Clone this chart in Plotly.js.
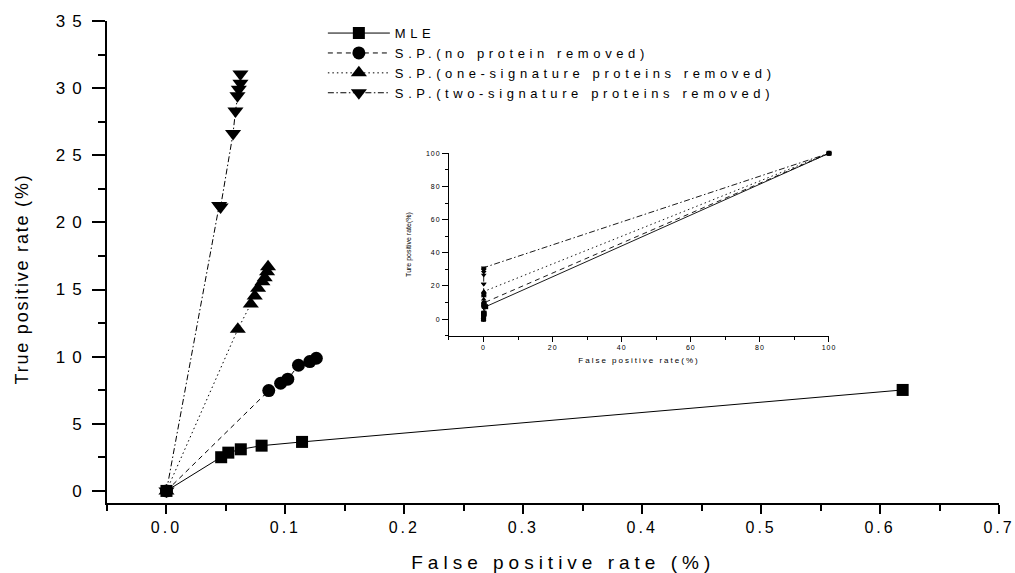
<!DOCTYPE html>
<html>
<head>
<meta charset="utf-8">
<script src="https://cdn.plot.ly/plotly-3.0.1.min.js"></script>
<style>
  html, body { margin: 0; padding: 0; background: #fff; }
  #chart { width: 1015px; height: 573px; }
  g.xtick text { letter-spacing: 3px; }
  g.ytick text { letter-spacing: 7px; }
  g.x2tick text, g.y2tick text { letter-spacing: 1px; }
  .legendtext { letter-spacing: 4.6px; }
  .g-xtitle text { letter-spacing: 5px; }
  .g-ytitle text { letter-spacing: 1.8px; }
  .g-x2title text { letter-spacing: 2px; }
</style>
</head>
<body>
<div id="chart"></div>
<script>
// ---- data ----
const seriesNames = [
  "MLE",
  "S.P.(no protein removed)",
  "S.P.(one-signature proteins removed)",
  "S.P.(two-signature proteins removed)"
];
const mleFPR = [0, 0.046, 0.052, 0.0625, 0.080, 0.114, 0.619];
const mleTPR = [0, 2.51, 2.85, 3.10, 3.37, 3.65, 7.52];

const spNoneFPR = [0, 0.086, 0.096, 0.102, 0.111, 0.1205, 0.126];
const spNoneTPR = [0, 7.47, 8.02, 8.32, 9.36, 9.63, 9.88];

const spOneFPR = [0, 0.060, 0.0709, 0.0742, 0.077, 0.0807, 0.0826, 0.0846, 0.0854];
const spOneTPR = [0, 12.04, 13.92, 14.52, 15.09, 15.58, 15.88, 16.33, 16.70];

const spTwoFPR = [0, 0.0443, 0.0455, 0.056, 0.058, 0.0597, 0.0608, 0.0622, 0.0622];
const spTwoTPR = [0, 21.25, 21.15, 26.63, 28.29, 29.43, 29.91, 30.36, 31.05];

// end point shown in the inset (full ROC range)
const endFPR = 100;
const endTPR = 100;

const mainXTicks = [0, 0.1, 0.2, 0.3, 0.4, 0.5, 0.6, 0.7];
const mainYTicks = [0, 5, 10, 15, 20, 25, 30, 35];
const insetTicks = [0, 20, 40, 60, 80, 100];

// ---- styles ----
const FONT = "Liberation Sans, Arial, Helvetica, sans-serif";
const styles = [
  { symbol: "square", size: 12, dash: "solid" },
  { symbol: "circle", size: 13, dash: "5px,4px" },
  { symbol: "triangle-up", size: 14, dash: "1.5px,3px" },
  { symbol: "triangle-down", size: 14, dash: "6px,2.5px,1.5px,2.5px" }
];
const xs = [mleFPR, spNoneFPR, spOneFPR, spTwoFPR];
const ys = [mleTPR, spNoneTPR, spOneTPR, spTwoTPR];

const traces = [];
xs.forEach((x, i) => {
  traces.push({
    type: "scatter", mode: "lines+markers",
    name: seriesNames[i],
    x: x, y: ys[i], xaxis: "x", yaxis: "y",
    line: { color: "#000", width: 1, dash: styles[i].dash },
    marker: { color: "#000", symbol: styles[i].symbol, size: styles[i].size },
    cliponaxis: false
  });
});
xs.forEach((x, i) => {
  traces.push({
    type: "scatter", mode: "lines+markers",
    name: seriesNames[i], showlegend: false,
    x: x.concat([endFPR]), y: ys[i].concat([endTPR]), xaxis: "x2", yaxis: "y2",
    line: { color: "#000", width: 0.9, dash: styles[i].dash },
    marker: { color: "#000", symbol: styles[i].symbol, size: 5 },
    cliponaxis: false
  });
});

// non-breaking padding (kept from trimming by a zero-width space) to offset title centres
const NB = "\u00a0", ZW = "\u200b";
const layout = {
  width: 1015, height: 573, autosize: false,
  margin: { l: 107, r: 16, t: 21, b: 70 },
  paper_bgcolor: "#fff", plot_bgcolor: "#fff",
  font: { family: FONT, color: "#000", size: 14 },
  showlegend: true,
  legend: {
    x: 0.242, y: 1.006, xanchor: "left", yanchor: "top",
    bgcolor: "rgba(0,0,0,0)", borderwidth: 0,
    font: { family: FONT, size: 13, color: "#000" },
    itemwidth: 62, tracegroupgap: 0
  },
  xaxis: {
    domain: [0, 1], range: [-0.05, 0.7], anchor: "y",
    tickmode: "array", tickvals: mainXTicks, ticktext: mainXTicks.map(v => v.toFixed(1)),
    ticklabeloverflow: "allow",
    ticks: "outside", ticklen: 9, tickwidth: 2, tickcolor: "#000",
    minor: { dtick: 0.05, tick0: 0, ticks: "outside", ticklen: 6, tickwidth: 2, tickcolor: "#000" },
    showline: true, linewidth: 2, linecolor: "#000",
    showgrid: false, zeroline: false,
    tickfont: { family: FONT, size: 16, color: "#000" },
    title: { text: ZW + NB + NB + "False positive rate (%)", font: { family: FONT, size: 19, color: "#000" }, standoff: 20 }
  },
  yaxis: {
    domain: [0, 1], range: [-0.9, 35], anchor: "x",
    tickmode: "array", tickvals: mainYTicks, ticktext: mainYTicks.map(String),
    ticks: "outside", ticklen: 13, tickwidth: 2, tickcolor: "#000",
    minor: { dtick: 2.5, tick0: 0, ticks: "outside", ticklen: 7, tickwidth: 2, tickcolor: "#000" },
    showline: true, linewidth: 2, linecolor: "#000",
    showgrid: false, zeroline: false,
    tickfont: { family: FONT, size: 17, color: "#000" },
    title: { text: "True positive rate (%)" + NB + NB + NB + NB + NB + ZW, font: { family: FONT, size: 18, color: "#000" }, standoff: 22 }
  },
  xaxis2: {
    domain: [0.3834, 0.8094], range: [-10, 100], anchor: "y2",
    tickmode: "array", tickvals: insetTicks, ticktext: insetTicks.map(String),
    ticks: "outside", ticklen: 5, tickwidth: 1, tickcolor: "#000",
    minor: { dtick: 10, tick0: 0, ticks: "outside", ticklen: 3, tickwidth: 1, tickcolor: "#000" },
    showline: true, linewidth: 1, linecolor: "#000",
    showgrid: false, zeroline: false,
    tickfont: { family: FONT, size: 7, color: "#000" },
    title: { text: "False positive rate(%)", font: { family: FONT, size: 8, color: "#000" }, standoff: 7 }
  },
  yaxis2: {
    domain: [0.347, 0.7255], range: [-10, 100], anchor: "x2",
    tickmode: "array", tickvals: insetTicks, ticktext: insetTicks.map(String),
    ticks: "outside", ticklen: 6, tickwidth: 1, tickcolor: "#000",
    minor: { dtick: 10, tick0: 0, ticks: "outside", ticklen: 3, tickwidth: 1, tickcolor: "#000" },
    showline: true, linewidth: 1, linecolor: "#000",
    showgrid: false, zeroline: false,
    tickfont: { family: FONT, size: 7, color: "#000" },
    title: { text: "Ture positive rate(%)", font: { family: FONT, size: 7, color: "#000" }, standoff: 13 }
  }
};

Plotly.newPlot("chart", traces, layout, { displayModeBar: false, staticPlot: true });
</script>
</body>
</html>
